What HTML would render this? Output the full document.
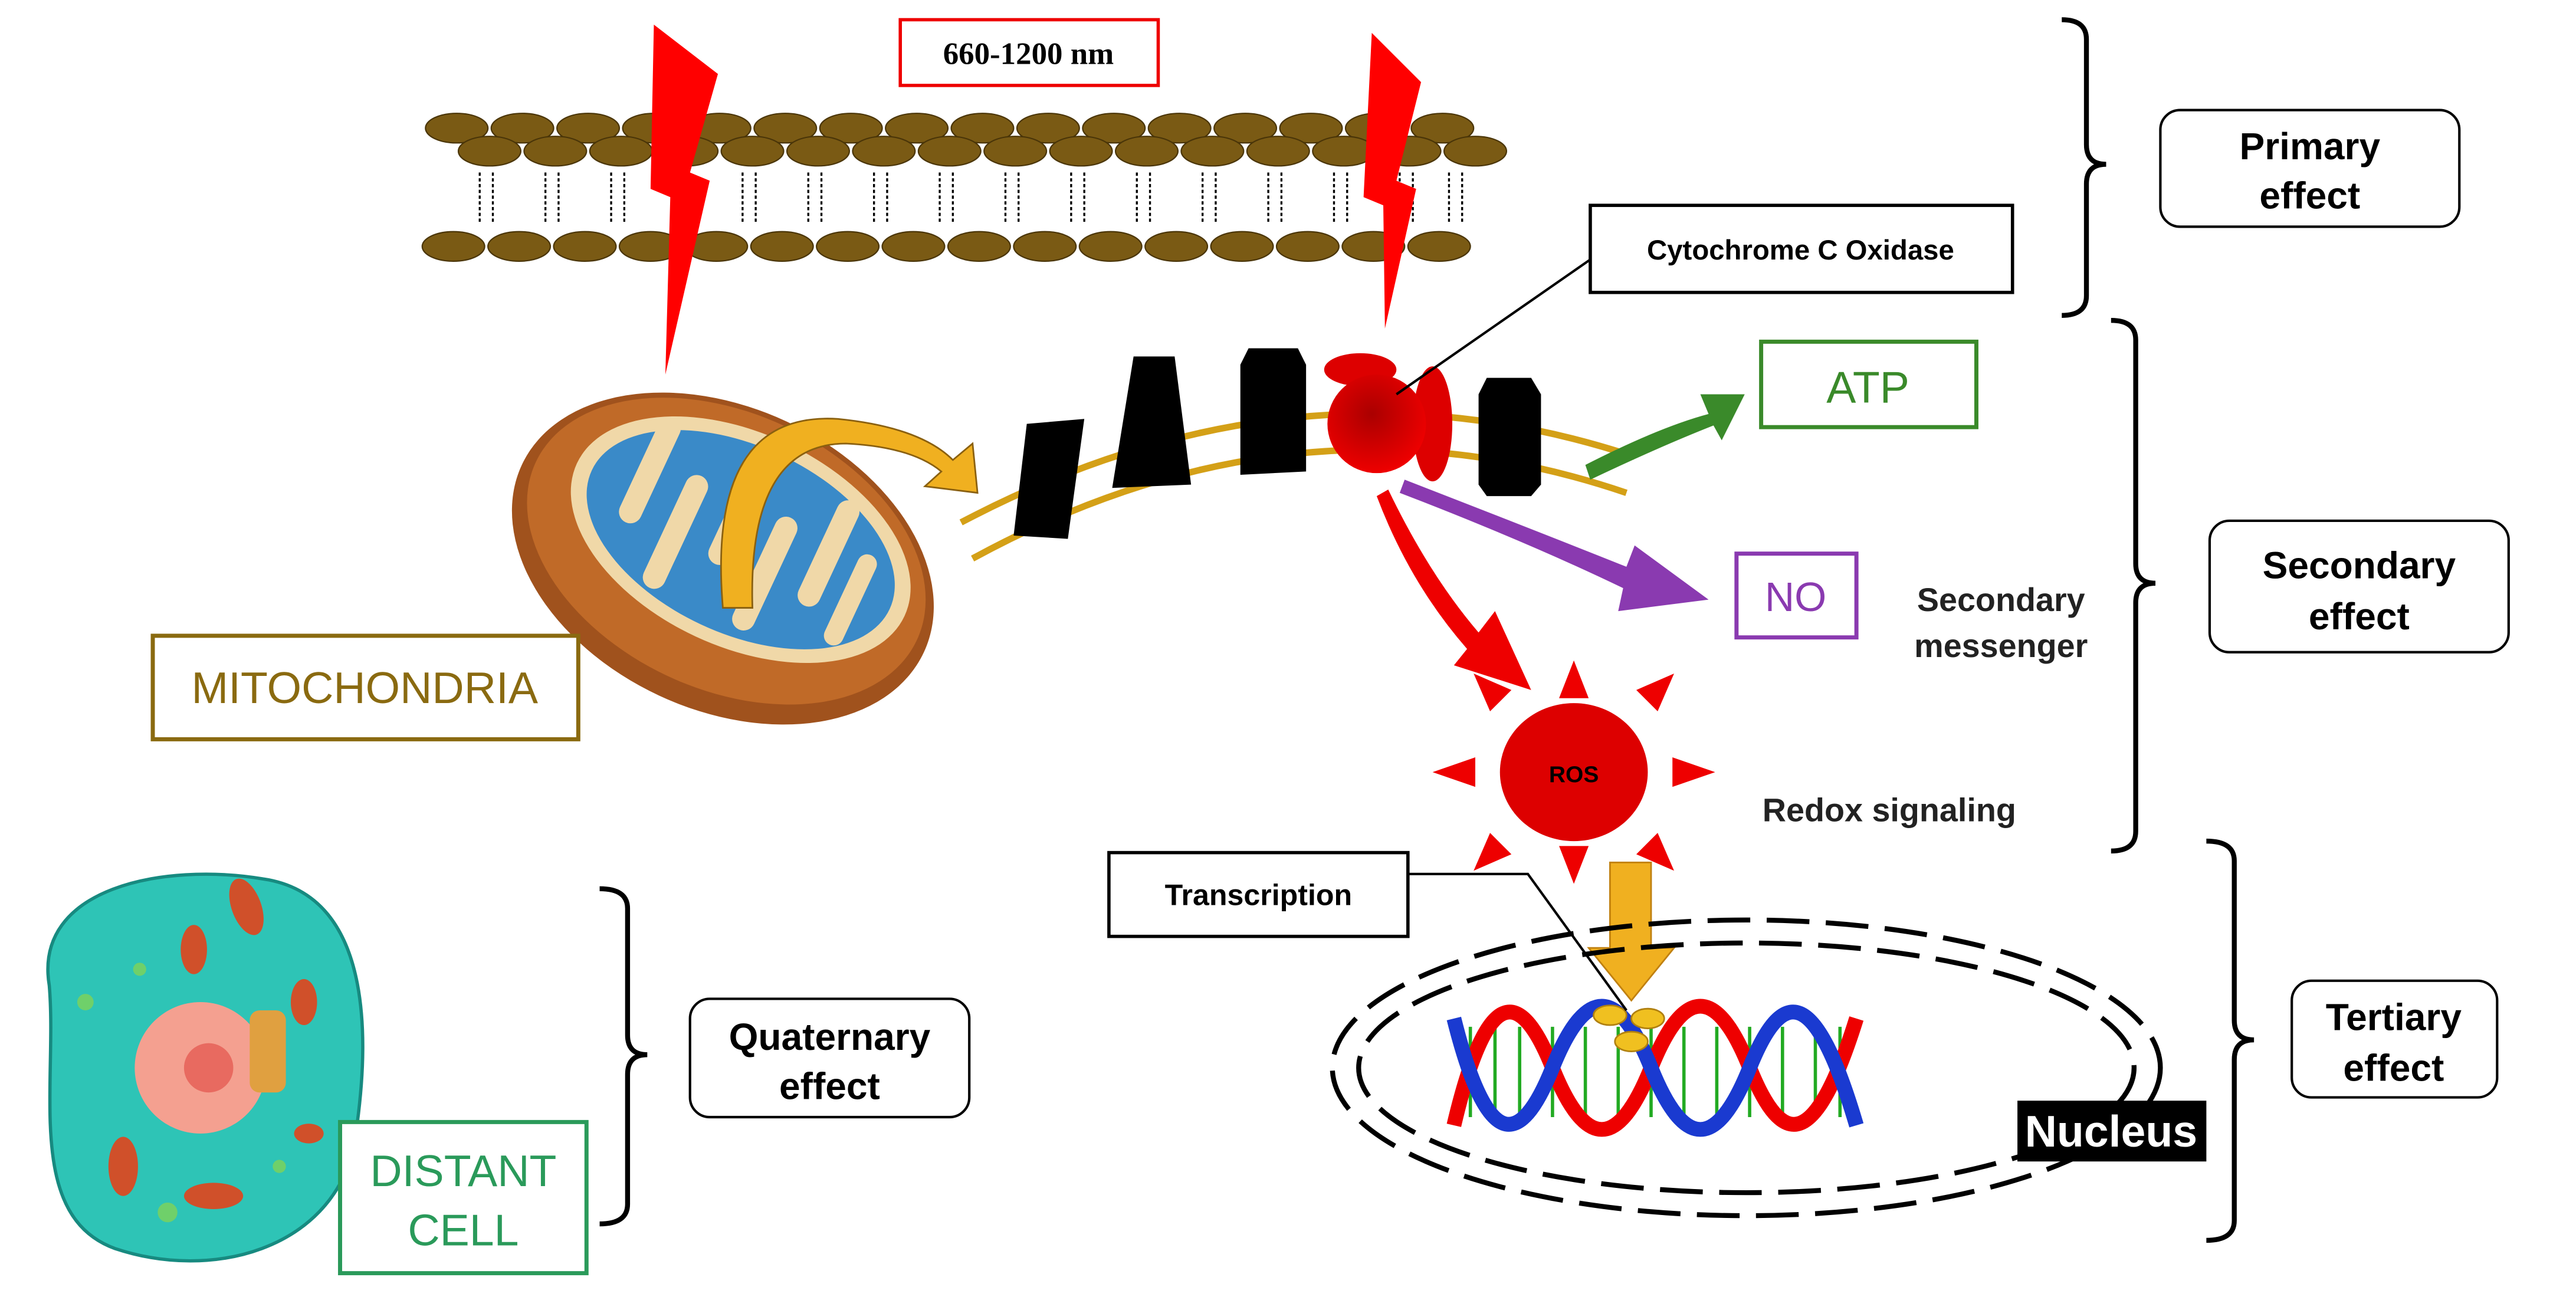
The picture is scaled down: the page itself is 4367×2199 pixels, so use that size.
<!DOCTYPE html>
<html><head><meta charset="utf-8"><style>
html,body{margin:0;padding:0;background:#fff;}
svg{display:block;}
text{font-family:"Liberation Sans",sans-serif;}
</style></head><body>
<svg width="4367" height="2199" viewBox="0 0 1568 789.5" preserveAspectRatio="none" xmlns="http://www.w3.org/2000/svg">
<defs>
<radialGradient id="rg" cx="0.45" cy="0.4" r="0.6"><stop offset="0" stop-color="#a00"/><stop offset="1" stop-color="#e00"/></radialGradient>
</defs>
<g fill="#7a5a14" stroke="#4a3508" stroke-width="0.8">
<g id="row1">
<ellipse cx="278" cy="78" rx="19" ry="9"/><ellipse cx="318" cy="78" rx="19" ry="9"/><ellipse cx="358" cy="78" rx="19" ry="9"/><ellipse cx="398" cy="78" rx="19" ry="9"/><ellipse cx="438" cy="78" rx="19" ry="9"/><ellipse cx="478" cy="78" rx="19" ry="9"/><ellipse cx="518" cy="78" rx="19" ry="9"/><ellipse cx="558" cy="78" rx="19" ry="9"/><ellipse cx="598" cy="78" rx="19" ry="9"/><ellipse cx="638" cy="78" rx="19" ry="9"/><ellipse cx="678" cy="78" rx="19" ry="9"/><ellipse cx="718" cy="78" rx="19" ry="9"/><ellipse cx="758" cy="78" rx="19" ry="9"/><ellipse cx="798" cy="78" rx="19" ry="9"/><ellipse cx="838" cy="78" rx="19" ry="9"/><ellipse cx="878" cy="78" rx="19" ry="9"/>
</g>
<g transform="translate(20,14)"><use href="#row1"/></g>
<g transform="translate(-2,72)"><use href="#row1"/></g>
</g>
<g stroke="#000" stroke-width="1.2" stroke-dasharray="2,1.5">
<path d="M292,105 v30 M300,105 v30 M332,105 v30 M340,105 v30 M372,105 v30 M380,105 v30 M452,105 v30 M460,105 v30 M492,105 v30 M500,105 v30 M532,105 v30 M540,105 v30 M572,105 v30 M580,105 v30 M612,105 v30 M620,105 v30 M652,105 v30 M660,105 v30 M692,105 v30 M700,105 v30 M732,105 v30 M740,105 v30 M772,105 v30 M780,105 v30 M812,105 v30 M820,105 v30 M852,105 v30 M860,105 v30 M882,105 v30 M890,105 v30"/>
</g>
<path d="M398,15 L437,45 L420,105 L432,110 L405,228 L408,120 L396,115z" fill="#f00"/>
<path d="M835,20 L865,50 L850,110 L862,115 L843,200 L842,125 L830,120z" fill="#f00"/>
<rect x="548" y="12" width="157" height="40" fill="#fff" stroke="#e00" stroke-width="2"/>
<text x="626" y="39" font-size="19" font-weight="bold" text-anchor="middle" style="font-family:'Liberation Serif',serif">660-1200 nm</text>
<g fill="none" stroke="#000" stroke-width="3">
<path d="M1255,12 q15,0 15,12 v64 q0,12 12,12 q-12,0 -12,12 v68 q0,12 -15,12"/>
<path d="M1285,195 q15,0 15,12 v136 q0,12 12,12 q-12,0 -12,12 v139 q0,12 -15,12"/>
<path d="M1343,512 q17,0 17,12 v97 q0,12 12,12 q-12,0 -12,12 v98 q0,12 -17,12"/>
<path d="M365,541 q17,0 17,12 v77 q0,12 12,12 q-12,0 -12,12 v79 q0,12 -17,12"/>
</g>
<g fill="#fff" stroke="#000" stroke-width="1.5">
<rect x="1315" y="67" width="182" height="71" rx="12"/>
<rect x="1345" y="317" width="182" height="80" rx="12"/>
<rect x="1395" y="597" width="125" height="71" rx="12"/>
<rect x="420" y="608" width="170" height="72" rx="12"/>
</g>
<g font-size="23" font-weight="bold" text-anchor="middle">
<text x="1406" y="97">Primary</text><text x="1406" y="127">effect</text>
<text x="1436" y="352">Secondary</text><text x="1436" y="383">effect</text>
<text x="1457" y="627">Tertiary</text><text x="1457" y="658">effect</text>
<text x="505" y="639">Quaternary</text><text x="505" y="669">effect</text>
</g>
<rect x="968" y="125" width="257" height="53" fill="#fff" stroke="#000" stroke-width="2"/>
<text x="1096" y="158" font-size="17" font-weight="bold" text-anchor="middle">Cytochrome C Oxidase</text>
<g fill="none" stroke="#d4a017" stroke-width="4">
<path d="M585,318 Q790,210 995,278"/>
<path d="M592,340 Q790,232 990,300"/>
</g>
<g fill="#000">
<path d="M625,258 L660,255 L650,328 L617,326z"/>
<path d="M690,217 L715,217 L725,295 L677,297z"/>
<path d="M760,212 L790,212 L795,222 L795,287 L755,289 L755,222z"/>
<path d="M905,230 L932,230 L938,240 L938,295 L932,302 L905,302 L900,295 L900,240z"/>
</g>
<ellipse cx="828" cy="225" rx="22" ry="10" fill="#d00"/>
<ellipse cx="872" cy="258" rx="12" ry="35" fill="#d00"/>
<circle cx="838" cy="258" r="30" fill="url(#rg)"/>
<line x1="850" y1="240" x2="968" y2="158" stroke="#000" stroke-width="1.5"/>
<path d="M965,283 Q1010,260 1040,252 L1035,240 L1062,240 L1048,268 L1043,259 Q1010,272 968,292z" fill="#3a8a2a"/>
<path d="M855,292 Q940,325 990,345 L995,332 L1040,365 L985,372 L988,358 Q930,330 852,300z" fill="#8a3ab0"/>
<path d="M845,298 Q870,350 900,385 L910,372 L932,420 L885,405 L893,395 Q858,355 838,302z" fill="#e00"/>
<rect x="1072" y="208" width="131" height="52" fill="#fff" stroke="#3a8a2a" stroke-width="2.5"/>
<text x="1137" y="245" font-size="27" fill="#3a8a2a" text-anchor="middle">ATP</text>
<rect x="1057" y="337" width="73" height="51" fill="#fff" stroke="#8a3ab0" stroke-width="2.5"/>
<text x="1093" y="372" font-size="25" fill="#8a3ab0" text-anchor="middle">NO</text>
<g font-size="20" font-weight="bold" fill="#222">
<text x="1218" y="372" text-anchor="middle">Secondary</text>
<text x="1218" y="400" text-anchor="middle">messenger</text>
<text x="1150" y="500" text-anchor="middle">Redox signaling</text>
</g>
<g fill="#e00">
<path d="M958,402 L967,425 L949,425z"/><path d="M958,538 L967,515 L949,515z"/>
<path d="M872,470 L898,461 L898,479z"/><path d="M1044,470 L1018,461 L1018,479z"/>
<path d="M897,410 L920,420 L907,433z"/><path d="M1019,410 L996,420 L1009,433z"/>
<path d="M897,530 L920,520 L907,507z"/><path d="M1019,530 L996,520 L1009,507z"/>
</g>
<ellipse cx="958" cy="470" rx="45" ry="42" fill="#d00"/>
<text x="958" y="476" font-size="14" font-weight="bold" text-anchor="middle">ROS</text>
<path d="M980,525 h25 v52 h14 l-26,32 l-26,-32 h13z" fill="#f0b020" stroke="#c08010" stroke-width="1"/>
<g fill="none" stroke="#000" stroke-width="3" stroke-dasharray="26,10">
<ellipse cx="1063" cy="650" rx="252" ry="90"/>
<ellipse cx="1063" cy="650" rx="236" ry="76"/>
</g>
<g stroke-width="2">
<g stroke="#2a2">
<path d="M895,625 v55 M910,625 v55 M925,625 v55 M945,625 v55 M965,625 v55 M985,625 v55 M1005,625 v55 M1025,625 v55 M1045,625 v55 M1065,625 v55 M1085,625 v55 M1105,625 v55 M1120,625 v55"/>
</g>
<path d="M885,685 C905,600 925,600 945,650 S985,700 1005,650 S1045,600 1065,650 S1105,700 1130,620" fill="none" stroke="#e00" stroke-width="9"/>
<path d="M885,620 C905,700 925,700 945,650 S985,600 1005,650 S1045,700 1065,650 S1105,600 1130,685" fill="none" stroke="#1a3ad0" stroke-width="9"/>
</g>
<g fill="#f0c020" stroke="#b08010">
<ellipse cx="980" cy="618" rx="10" ry="6"/><ellipse cx="1003" cy="620" rx="10" ry="6"/><ellipse cx="993" cy="634" rx="10" ry="6"/>
</g>
<rect x="1228" y="670" width="115" height="37" fill="#000"/>
<text x="1285" y="698" font-size="27" font-weight="bold" fill="#fff" text-anchor="middle">Nucleus</text>
<rect x="675" y="519" width="182" height="51" fill="#fff" stroke="#000" stroke-width="2"/>
<text x="766" y="551" font-size="18" font-weight="bold" text-anchor="middle">Transcription</text>
<path d="M857,532 L930,532 L990,615" fill="none" stroke="#000" stroke-width="1.5"/>
<g transform="rotate(25 440 340)">
<ellipse cx="440" cy="340" rx="135" ry="92" fill="#a0521d"/>
<ellipse cx="440" cy="335" rx="128" ry="84" fill="#c06a28"/>
<ellipse cx="445" cy="325" rx="110" ry="65" fill="#f0d8a8"/>
<ellipse cx="445" cy="325" rx="100" ry="57" fill="#3a8ac8"/>
<g fill="#f0d8a8">
<rect x="370" y="275" width="14" height="70" rx="7"/><rect x="400" y="300" width="14" height="75" rx="7"/><rect x="430" y="275" width="14" height="70" rx="7"/><rect x="460" y="300" width="14" height="75" rx="7"/><rect x="490" y="275" width="14" height="70" rx="7"/><rect x="515" y="300" width="12" height="60" rx="6"/>
</g>
</g>
<path d="M440,370 Q430,250 510,255 Q560,260 580,280 L592,270 L595,300 L563,296 L573,287 Q555,272 515,270 Q455,270 458,370z" fill="#f0b020" stroke="#8a6010" stroke-width="1"/>
<rect x="93" y="387" width="259" height="63" fill="#fff" stroke="#8a6a10" stroke-width="2.5"/>
<text x="222" y="428" font-size="27" fill="#8a6a10" text-anchor="middle">MITOCHONDRIA</text>
<path d="M30,600 C20,540 100,525 160,535 C230,545 225,640 215,700 C200,760 130,780 70,760 C15,740 35,660 30,600z" fill="#2ec4b6" stroke="#178a80" stroke-width="2"/>
<circle cx="122" cy="650" r="40" fill="#f4a090"/>
<circle cx="127" cy="650" r="15" fill="#e86a60"/>
<g fill="#d0502a">
<ellipse cx="150" cy="552" rx="9" ry="18" transform="rotate(-20 150 552)"/><ellipse cx="118" cy="578" rx="8" ry="15"/><ellipse cx="185" cy="610" rx="8" ry="14"/><ellipse cx="75" cy="710" rx="9" ry="18"/><ellipse cx="130" cy="728" rx="18" ry="8"/><ellipse cx="188" cy="690" rx="9" ry="6"/>
</g>
<g fill="#6fd06a"><circle cx="52" cy="610" r="5"/><circle cx="85" cy="590" r="4"/><circle cx="102" cy="738" r="6"/><circle cx="170" cy="710" r="4"/></g>
<g fill="#e0a040"><rect x="152" y="615" width="22" height="50" rx="6"/></g>
<rect x="207" y="683" width="150" height="92" fill="#fff" stroke="#2a9a5a" stroke-width="2.5"/>
<text x="282" y="722" font-size="27" fill="#2a9a5a" text-anchor="middle">DISTANT</text>
<text x="282" y="758" font-size="27" fill="#2a9a5a" text-anchor="middle">CELL</text>
</svg>
</body></html>
